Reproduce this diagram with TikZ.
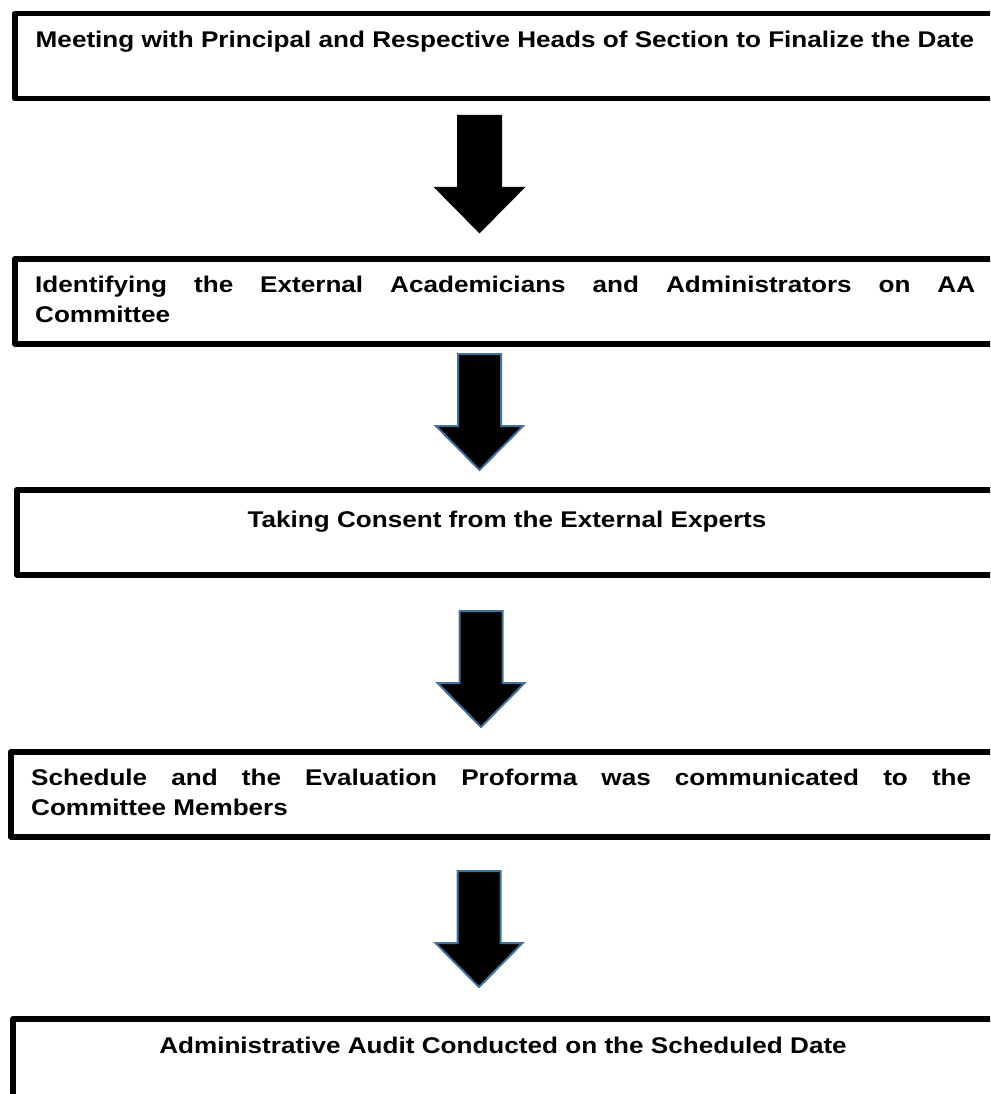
\documentclass[tikz,border=0pt]{standalone}
\usepackage{fontspec}
\setmainfont{Liberation Sans}[FakeStretch=1.15]
\definecolor{arrowblue}{RGB}{65,113,156}

\tikzset{
  stepbox/.style={draw, line width=5.5pt, line join=round, anchor=north west,
    minimum width=1100pt, minimum height=85pt, inner sep=0pt},
  steptext/.style={inner sep=0pt, anchor=base,
    font=\fontsize{22.7}{30}\selectfont\bfseries},
  steppar/.style={steptext, anchor=base west, text width=940pt, align=justify,
    execute at begin node={\hyphenpenalty=10000\tolerance=10000}},
  fatarrow/.style={fill=black, line width=2pt, line join=miter}
}

\begin{document}
\begin{tikzpicture}[x=1pt,y=-1pt]
\useasboundingbox (0,0) rectangle (990,1094);
\clip (0,0) rectangle (990,1094);

% boxes
\node[stepbox] (b1) at (12,11) {};
\node[stepbox] (b2) at (12,256) {};
\node[stepbox] (b3) at (14,487) {};
\node[stepbox] (b4) at (8,749) {};
\node[stepbox] (b5) at (10,1016) {};

% texts
\node[steptext] (t1) at ([shift={(493,37)}]b1.north west)
  {Meeting with Principal and Respective Heads of Section to Finalize the Date};
\node[steppar] (t2) at ([shift={(23,36)}]b2.north west)
  {Identifying the External Academicians and Administrators on AA\linebreak Committee};
\node[steptext] (t3) at ([shift={(493,40)}]b3.north west)
  {Taking Consent from the External Experts};
\node[steppar] (t4) at ([shift={(23,36)}]b4.north west)
  {Schedule and the Evaluation Proforma was communicated to the\linebreak Committee Members};
\node[steptext] (t5) at ([shift={(493,37)}]b5.north west)
  {Administrative Audit Conducted on the Scheduled Date};

% arrows between the steps
\coordinate (a1) at (479.5,116);
\coordinate (a2) at (479.5,354);
\coordinate (a3) at (481,611);
\coordinate (a4) at (479,871);
\foreach \a/\c in {a1/black, a2/arrowblue, a3/arrowblue, a4/arrowblue}
  \draw[fatarrow, draw=\c] (\a) ++(-21.5,0) -- ++(43,0) -- ++(0,72) -- ++(22,0)
    -- ++(-43.5,44) -- ++(-43.5,-44) -- ++(22,0) -- cycle;
\end{tikzpicture}
\end{document}
